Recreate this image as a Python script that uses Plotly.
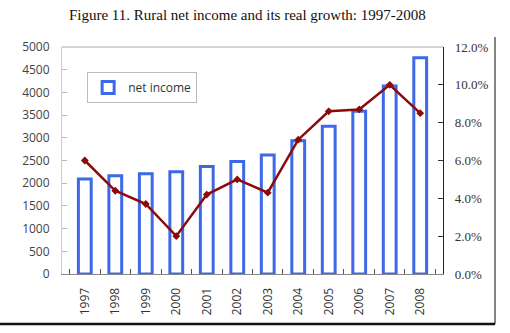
import plotly.graph_objects as go

years = ["1997", "1998", "1999", "2000", "2001", "2002", "2003", "2004", "2005", "2006", "2007", "2008"]
net_income = [2090, 2162, 2210, 2253, 2366, 2476, 2622, 2936, 3255, 3587, 4140, 4761]
real_growth = [6.0, 4.4, 3.7, 2.0, 4.2, 5.0, 4.3, 7.1, 8.6, 8.7, 10.0, 8.5]

BLUE = "#3D68E6"
RED = "#8B0A0A"

fig = go.Figure()
fig.add_trace(go.Bar(
    x=years, y=net_income, name="net income",
    marker=dict(color="white", line=dict(color=BLUE, width=3)),
    width=0.42, yaxis="y",
))
fig.add_trace(go.Scatter(
    x=years, y=real_growth, name="real growth", showlegend=False,
    mode="lines+markers", yaxis="y2",
    line=dict(color=RED, width=2.5),
    marker=dict(symbol="diamond", size=6, color=RED),
))

fig.update_layout(
    width=510, height=333,
    margin=dict(l=62, r=67, t=47, b=59),
    paper_bgcolor="white", plot_bgcolor="white",
    title=dict(text="Figure 11. Rural net income and its real growth: 1997-2008",
               x=0.485, xanchor="center", y=0.955, yanchor="middle",
               font=dict(family="Liberation Serif", size=15, color="#111")),
    showlegend=True,
    legend=dict(x=0.066, y=0.89, xanchor="left", yanchor="top",
                bgcolor="white", bordercolor="#bbbbbb", borderwidth=1,
                font=dict(family="Open Sans", size=12, color="#333"),
                itemwidth=30),
    xaxis=dict(type="category", tickangle=-90, tickson="boundaries",
               ticks="inside", ticklen=5, tickcolor="#555", ticklabelstandoff=8,
               showline=True, linecolor="#888", linewidth=1, mirror=False,
               tickfont=dict(family="Open Sans", size=12, color="#333")),
    yaxis=dict(range=[0, 5000], dtick=500, ticks="inside", ticklen=5, tickcolor="#bbb",
               ticklabelstandoff=9,
               showline=True, linecolor="#ccc", showgrid=False, zeroline=False,
               tickfont=dict(family="Open Sans", size=12, color="#444")),
    yaxis2=dict(range=[0, 12], dtick=2, overlaying="y", side="right",
                tickformat=".1f", ticksuffix="%", ticklabelstandoff=8,
                ticks="inside", ticklen=5, tickcolor="#333",
                showline=True, linecolor="#222", linewidth=1.2, showgrid=False, zeroline=False,
                tickfont=dict(family="Liberation Serif", size=13, color="#333")),
    shapes=[
        dict(type="line", xref="paper", yref="paper", x0=0, x1=1, y0=1, y1=1,
             line=dict(color="#aaa", width=1)),
        dict(type="line", xref="paper", yref="paper", x0=1.1365, x1=1.1365, y0=1.044, y1=-0.22,
             line=dict(color="#333", width=1.2)),
        dict(type="line", xref="paper", yref="paper", x0=-0.2, x1=1.1365, y0=-0.22, y1=-0.22,
             line=dict(color="#111", width=2.5)),
    ],
)

fig.write_html("out.html")
